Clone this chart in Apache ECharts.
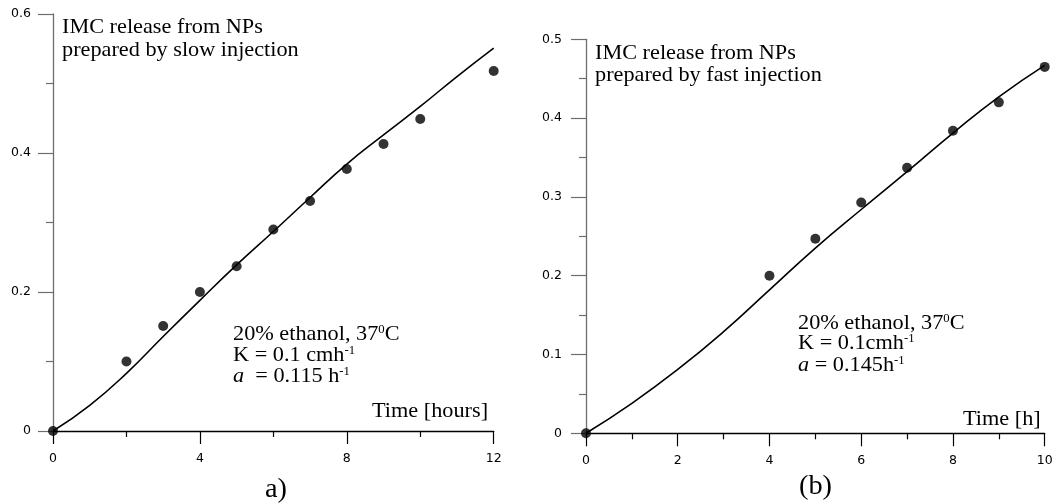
<!DOCTYPE html>
<html>
<head>
<meta charset="utf-8">
<script src="https://cdn.jsdelivr.net/npm/echarts@6/dist/echarts.min.js"></script>
<style>
html,body{margin:0;padding:0;background:#fff;}
#c{width:1055px;height:504px;}
</style>
</head>
<body>
<div id="c"></div>
<script>
// Panel a) slow injection
const slowX = [0, 2, 3, 4, 5, 6, 7, 8, 9, 10, 12];
const slowY = [0, 0.100, 0.151, 0.200, 0.237, 0.290, 0.331, 0.377, 0.413, 0.449, 0.518];
const slowFitX = [0, 1, 2, 3, 4, 5, 6, 7, 8, 9, 10, 11, 12];
const slowFitY = [0, 0.037, 0.083, 0.136, 0.188, 0.239, 0.287, 0.336, 0.384, 0.426, 0.467, 0.510, 0.551];
// Panel (b) fast injection
const fastX = [0, 4, 5, 6, 7, 8, 9, 10];
const fastY = [0, 0.200, 0.247, 0.293, 0.337, 0.384, 0.420, 0.465];
const fastFitX = [0, 1, 2, 3, 4, 5, 6, 7, 8, 9, 10];
const fastFitY = [0, 0.038, 0.081, 0.129, 0.182, 0.235, 0.284, 0.332, 0.381, 0.427, 0.467];
// Axis ranges / ticks
const slowXAxis = {min: 0, max: 12, interval: 4};
const slowYAxis = {min: 0, max: 0.6, interval: 0.2};
const fastXAxis = {min: 0, max: 10, interval: 2};
const fastYAxis = {min: 0, max: 0.5, interval: 0.1};

const pair = (xs, ys) => xs.map((x, i) => [x, ys[i]]);
const SERIF = '"Liberation Serif", "Times New Roman", serif';
const SANS = '"DejaVu Sans", Arial, sans-serif';

function xAxisCfg(idx, r) {
  return {
    type: 'value', gridIndex: idx, min: r.min, max: r.max, interval: r.interval,
    axisLine: {show: true, onZero: false, lineStyle: {color: '#000', width: 1.3}},
    axisTick: {show: true, inside: false, length: 13, lineStyle: {color: '#000', width: 1.2}},
    minorTick: {show: true, splitNumber: 2, length: 6, lineStyle: {color: '#000', width: 1.2}},
    axisLabel: {margin: 21, color: '#000', fontSize: 12.5, fontFamily: SANS},
    splitLine: {show: false}, minorSplitLine: {show: false}
  };
}
function yAxisCfg(idx, r, margin) {
  return {
    type: 'value', gridIndex: idx, min: r.min, max: r.max, interval: r.interval,
    axisLine: {show: true, onZero: false, lineStyle: {color: '#6e6e6e', width: 1.3}},
    axisTick: {show: true, inside: false, length: 15, lineStyle: {color: '#6e6e6e', width: 1.2}},
    minorTick: {show: true, splitNumber: 2, length: 7, lineStyle: {color: '#6e6e6e', width: 1.2}},
    axisLabel: {margin: margin, color: '#000', fontSize: 12.5, fontFamily: SANS},
    splitLine: {show: false}, minorSplitLine: {show: false}
  };
}

function txt(x, y, text, size, rich, sx) {
  return {
    type: 'text', x: x, y: y, scaleX: sx || 1.06, z: 10,
    style: {
      text: text, fill: '#000', fontSize: size, fontFamily: SERIF,
      align: 'left', verticalAlign: 'middle', rich: rich || {}
    }
  };
}
const richSup = {
  sup: {fontSize: 12, fontFamily: SERIF, fill: '#000', verticalAlign: 'top'},
  it: {fontSize: 21, fontFamily: SERIF, fontStyle: 'italic', fill: '#000'}
};

const chart = echarts.init(document.getElementById('c'));
chart.setOption({
  backgroundColor: '#fff',
  animation: false,
  grid: [
    {left: 53, top: 14, width: 440.7, height: 417, outerBoundsMode: 'none', containLabel: false},
    {left: 586, top: 39.3, width: 458.7, height: 394, outerBoundsMode: 'none', containLabel: false}
  ],
  xAxis: [xAxisCfg(0, slowXAxis), xAxisCfg(1, fastXAxis)],
  yAxis: [yAxisCfg(0, slowYAxis, 22), yAxisCfg(1, fastYAxis, 24)],
  series: [
    {type: 'line', xAxisIndex: 0, yAxisIndex: 0, data: pair(slowFitX, slowFitY),
     showSymbol: false, smooth: 0.5, lineStyle: {color: '#000', width: 1.6}, z: 2},
    {type: 'scatter', xAxisIndex: 0, yAxisIndex: 0, data: pair(slowX, slowY),
     symbol: 'circle', symbolSize: 10, itemStyle: {color: '#000'}, z: 3},
    {type: 'line', xAxisIndex: 1, yAxisIndex: 1, data: pair(fastFitX, fastFitY),
     showSymbol: false, smooth: 0.5, lineStyle: {color: '#000', width: 1.6}, z: 2},
    {type: 'scatter', xAxisIndex: 1, yAxisIndex: 1, data: pair(fastX, fastY),
     symbol: 'circle', symbolSize: 10, itemStyle: {color: '#000'}, z: 3}
  ],
  graphic: [
    txt(62, 27.5, 'IMC release from NPs', 21),
    txt(62, 50, 'prepared by slow injection', 21),
    txt(233, 334, '20% ethanol, 37{sup|0}C', 21, richSup),
    txt(233, 355, 'K = 0.1 cmh{sup|-1}', 21, richSup),
    txt(233, 376.5, '{it|a}  = 0.115 h{sup|-1}', 21, richSup),
    txt(372, 411, 'Time [hours]', 21),
    txt(265, 490, 'a)', 27, null, 1.05),

    txt(595, 53.3, 'IMC release from NPs', 21),
    txt(595, 75, 'prepared by fast injection', 21),
    txt(798, 323, '20% ethanol, 37{sup|0}C', 21, richSup),
    txt(798, 343.5, 'K = 0.1cmh{sup|-1}', 21, richSup),
    txt(798, 365, '{it|a} = 0.145h{sup|-1}', 21, richSup),
    txt(963, 419, 'Time [h]', 21),
    txt(799, 487, '(b)', 27, null, 1.05)
  ]
});
</script>
</body>
</html>
